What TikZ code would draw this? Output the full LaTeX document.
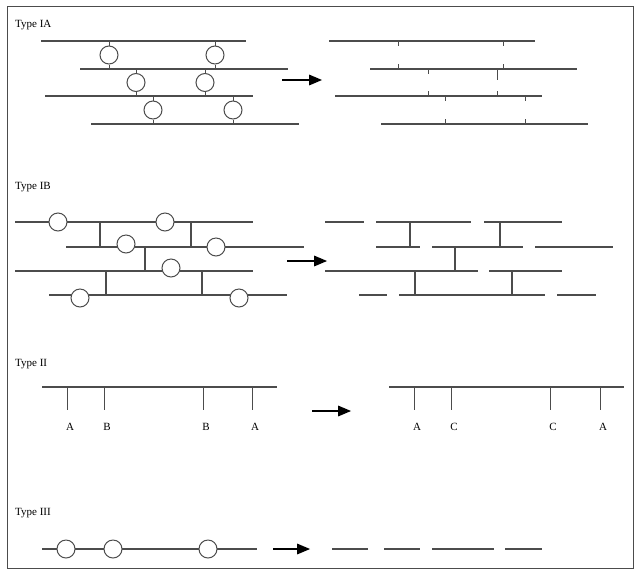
\documentclass[tikz,border=0pt]{standalone}
\usepackage{fontspec}
\setmainfont{Liberation Serif}
\usetikzlibrary{arrows,shapes.geometric}
\tikzset{
  strand/.style={draw=black!70,line width=1.3pt},
  cut/.style={draw=black!70,line width=1pt,fill=white,circle,minimum size=18pt,inner sep=0pt},
  lbl/.style={anchor=west,font=\fontsize{11}{13}\selectfont,inner sep=0pt},
  site/.style={font=\fontsize{11}{13}\selectfont,inner sep=0pt},
  goes/.style={->,>=triangle 45,line width=2pt,black}
}
\begin{document}
\begin{tikzpicture}[x=1pt,y=-1pt]
		\useasboundingbox (0,0) rectangle (636,571);
		\draw [black!70,line width=1pt] (7,6) rectangle (633,568);
		% Type IA
		\node (tia) at (15,25) [lbl] {Type IA};
		\draw [strand] (41,41) -- (246,41);
		\draw [strand] (80,69) -- (288,69);
		\draw [strand] (45,96) -- (253,96);
		\draw [strand] (91,124) -- (299,124);
		\foreach \x/\ya/\yb/\n in {109/41/69/a1, 215/41/69/a2, 136/69/96/a3, 205/69/96/a4, 153/96/124/a5, 233/96/124/a6} {
		  \node (\n) at (\x,{(\ya+\yb)/2}) [cut,ellipse,minimum height=18pt,minimum width=18pt] {};
		  \draw [strand,line width=1pt] (\x,\ya) -- (\n) -- (\x,\yb);
		}
		\coordinate (ia1) at (282,80);
		\coordinate (ia2) at (322,80);
		\draw [goes] (ia1) -- (ia2);
		\draw [strand] (329,41) -- (535,41);
		\draw [strand] (370,69) -- (577,69);
		\draw [strand] (335,96) -- (542,96);
		\draw [strand] (381,124) -- (588,124);
		\foreach \x/\y/\d in {398/41/5, 503/41/5, 398/69/-5, 503/69/-5, 428/69/5, 497/69/11, 428/96/-5, 497/96/-5, 445/96/5, 525/96/5, 445/124/-5, 525/124/-5}
		  \draw [strand,line width=1pt] (\x,\y) -- ++(0,\d);
		% Type IB
		\node (tib) at (15,187) [lbl] {Type IB};
		\draw [strand] (15,222) -- (253,222);
		\draw [strand] (66,247) -- (304,247);
		\draw [strand] (15,271) -- (253,271);
		\draw [strand] (49,295) -- (287,295);
		\foreach \x/\ya/\yb in {100/222/247, 191/222/247, 145/247/271, 106/271/295, 202/271/295}
		  \draw [strand] (\x,\ya) -- (\x,\yb);
		\foreach \x/\y/\n in {58/222/b1, 165/222/b2, 126/244/b3, 216/247/b4, 171/268/b5, 80/298/b6, 239/298/b7}
		  \node (\n) at (\x,\y) [cut] {};
		\coordinate (ib1) at (287,261);
		\coordinate (ib2) at (327,261);
		\draw [goes] (ib1) -- (ib2);
		\foreach \xa/\xb/\y in {325/364/222, 376/471/222, 484/562/222, 376/420/247, 432/523/247, 535/613/247, 325/478/271, 489/562/271, 359/387/295, 399/545/295, 557/596/295}
		  \draw [strand] (\xa,\y) -- (\xb,\y);
		\foreach \x/\ya/\yb in {410/222/247, 500/222/247, 455/247/271, 415/271/295, 512/271/295}
		  \draw [strand] (\x,\ya) -- (\x,\yb);
		% Type II
		\node (tii) at (15,364) [lbl] {Type II};
		\draw [strand] (42,387) -- (277,387);
		\draw [strand] (389,387) -- (624,387);
		\foreach \x/\t in {67/A, 104/B, 203/B, 252/A, 414/A, 451/C, 550/C, 600/A} {
		  \draw [strand,line width=1pt] (\x,387) -- (\x,410);
		  \node at ({\x+3},427) [site] {\t};
		}
		\coordinate (ii1) at (312,411);
		\coordinate (ii2) at (351,411);
		\draw [goes] (ii1) -- (ii2);
		% Type III
		\node (tiii) at (15,513) [lbl] {Type III};
		\draw [strand] (42,549) -- (257,549);
		\foreach \x/\n in {66/c1, 113/c2, 208/c3}
		  \node (\n) at (\x,549) [cut] {};
		\coordinate (iii1) at (273,549);
		\coordinate (iii2) at (310,549);
		\draw [goes] (iii1) -- (iii2);
		\foreach \xa/\xb in {332/368, 384/420, 432/494, 505/542}
		  \draw [strand] (\xa,549) -- (\xb,549);
	\end{tikzpicture}
\end{document}
